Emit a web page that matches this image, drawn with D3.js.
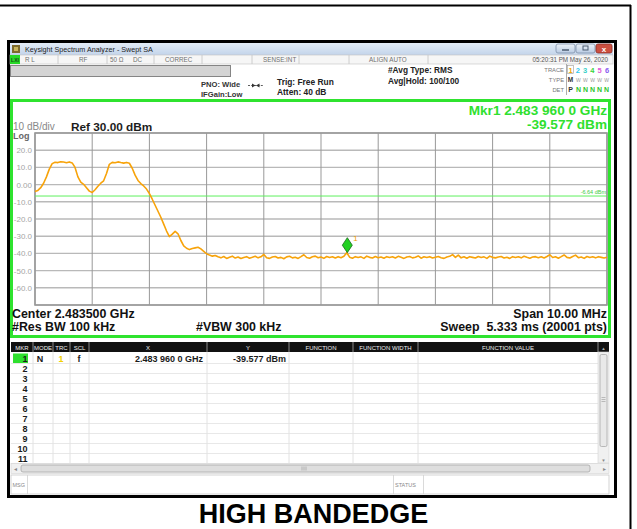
<!DOCTYPE html>
<html>
<head>
<meta charset="utf-8">
<script src="https://cdnjs.cloudflare.com/ajax/libs/d3/7.8.5/d3.min.js"></script>
<style>
body { margin: 0; background: #fff; }
svg { display: block; font-family: "Liberation Sans", Arial, sans-serif; }
</style>
</head>
<body>
<svg id="chart" width="637" height="529"></svg>
<script>
// sweep settings
var startMHz = 2478.5;
var stopMHz = 2488.5;
var traceStepMHz = 0.05;

// trace 1 levels (dBm), one per 0.05 MHz from the start frequency
var traceLevels = [
    -4.0, -3.4, -1.8, 0.8, 4.5, 9.0, 12.2, 13.0, 12.8, 13.3,
    13.1, 12.7, 13.2, 12.6, 10.0, 4.5, 1.5, 0.2, -1.8, -3.8,
    -4.6, -3.0, -1.0, 0.8, 2.2, 6.5, 11.8, 12.9, 12.7, 13.2,
    12.8, 12.5, 12.9, 12.4, 9.5, 5.5, 2.4, 0.6, -0.8, -2.6,
    -5.2, -8.5, -12.0, -15.5, -19.0, -23.0, -27.0, -30.2, -28.8, -27.2,
    -28.6, -32.5, -35.6, -37.0, -37.8, -37.2, -36.8, -36.4, -37.4, -38.8,
    -40.2, -41.0, -41.6, -41.2, -42.0, -42.6, -41.8, -42.9, -42.2, -41.6,
    -42.7, -42.1, -43.0, -42.4, -41.9, -42.8, -42.3, -41.7, -42.6, -42.0,
    -40.6, -42.5, -42.9, -42.1, -41.8, -42.7, -42.3, -43.1, -42.0, -41.7,
    -42.6, -42.2, -42.9, -41.9, -40.8, -42.4, -42.8, -42.0, -41.6, -42.5,
    -42.1, -42.9, -41.8, -42.4, -42.0, -42.7, -41.9, -42.5, -41.7, -39.6,
    -42.2, -42.8, -41.9, -42.4, -42.0, -42.9, -41.6, -42.3, -42.7, -41.8,
    -42.5, -42.1, -42.8, -41.9, -42.4, -42.0, -42.7, -41.7, -42.3, -42.9,
    -42.1, -41.8, -42.6, -42.2, -41.5, -42.8, -42.0, -42.4, -41.9, -42.7,
    -42.2, -41.8, -42.5, -42.9, -42.1, -41.7, -40.7, -42.3, -41.0, -42.6,
    -42.0, -42.8, -41.9, -42.3, -42.7, -41.8, -42.4, -42.0, -42.9, -41.6,
    -42.3, -42.6, -42.1, -41.8, -42.7, -42.2, -42.9, -41.9, -42.4, -42.0,
    -42.6, -41.7, -42.3, -42.8, -42.1, -41.9, -42.5, -42.0, -42.7, -41.8,
    -40.8, -42.4, -42.0, -42.8, -41.9, -40.9, -42.3, -42.7, -41.8, -41.0,
    -42.5, -42.1, -42.9, -41.8, -42.4, -42.0, -42.6, -41.9, -42.3, -42.7,
    -42.2
];

var refLevel = 30;
var dbPerDiv = 10;
var yTickValues = [20, 10, 0, -10, -20, -30, -40, -50, -60];
var yTickLabels = ["20.0", "10.0", "0.00", "-10.0", "-20.0", "-30.0", "-40.0", "-50.0", "-60.0"];

var displayLine = -6.64;
var markerMHz = 2483.96;
var markerLevel = -39.577;

var tableHeaders = ["MKR", "MODE", "TRC", "SCL", "X", "Y", "FUNCTION", "FUNCTION WIDTH", "FUNCTION VALUE"];
var markerRows = ["1", "2", "3", "4", "5", "6", "7", "8", "9", "10", "11"];
var row1 = {mode: "N", trc: "1", scl: "f", x: "2.483 960 0 GHz", y: "-39.577 dBm"};

var traceNums = ["1", "2", "3", "4", "5", "6"];
var traceColors = ["#f2a900", "#2ec8f0", "#39d0c8", "#3ad23a", "#e05ad8", "#8a5cf0"];

var svg = d3.select("#chart");

function text(x, y, s, size, opts) {
    opts = opts || {};
    return svg.append("text")
        .attr("x", x).attr("y", y)
        .attr("font-size", size)
        .attr("font-weight", opts.bold ? "bold" : "normal")
        .attr("fill", opts.fill || "#222")
        .attr("text-anchor", opts.anchor || "start")
        .style("white-space", "pre")
        .text(s);
}
function rect(x, y, w, h, fill, stroke, sw) {
    return svg.append("rect")
        .attr("x", x).attr("y", y).attr("width", w).attr("height", h)
        .attr("fill", fill || "none")
        .attr("stroke", stroke || "none")
        .attr("stroke-width", sw || 1);
}
function line(x1, y1, x2, y2, stroke, sw) {
    return svg.append("line")
        .attr("x1", x1).attr("y1", y1).attr("x2", x2).attr("y2", y2)
        .attr("stroke", stroke).attr("stroke-width", sw || 1);
}

var defs = svg.append("defs");
var tg = defs.append("linearGradient").attr("id", "titleGrad").attr("x1", 0).attr("y1", 0).attr("x2", 0).attr("y2", 1);
tg.append("stop").attr("offset", "0%").attr("stop-color", "#e3ecf7");
tg.append("stop").attr("offset", "100%").attr("stop-color", "#c3d4ea");
var bg = defs.append("linearGradient").attr("id", "btnGrad").attr("x1", 0).attr("y1", 0).attr("x2", 0).attr("y2", 1);
bg.append("stop").attr("offset", "0%").attr("stop-color", "#eef3fa");
bg.append("stop").attr("offset", "100%").attr("stop-color", "#b9cbe3");

// outer page frame
line(0, 5.5, 631, 5.5, "#000", 2);
line(630.5, 5, 630.5, 529, "#000", 2);

// window
rect(8.5, 41.5, 607, 455, "#fff", "#000", 3);

// title bar
rect(10, 43, 603, 12, "url(#titleGrad)");
rect(12, 45, 8, 8, "#7d6a2c");
rect(14, 47, 4, 4, "#c9b45a");
text(25, 52, "Keysight Spectrum Analyzer - Swept SA", 7.2, {fill: "#1c1c1c"});
rect(556, 44, 19, 9, "url(#btnGrad)", "#7f91aa", 0.8).attr("rx", 2);
line(562, 50, 569, 50, "#4a5a70", 1.5);
rect(576, 44, 19, 9, "url(#btnGrad)", "#7f91aa", 0.8).attr("rx", 2);
rect(583, 46, 5, 4, "none", "#4a5a70", 1);
rect(596, 44, 16, 9, "#cd4f40", "#8e2e24", 0.8).attr("rx", 2);
text(604, 52, "x", 8, {fill: "#fff", bold: true, anchor: "middle"});

// status row
rect(10, 55, 603, 9, "#f6f6f6", "#c4c4c4", 0.6);
rect(10, 55, 10, 9, "#26d926");
text(15, 62, "LXI", 5, {fill: "#1a4a1a", bold: true, anchor: "middle"});
[58, 107, 154, 202, 252, 299, 349, 428].forEach(function(x) { line(x, 55, x, 64, "#c4c4c4", 0.8); });
var statusTexts = [["R L", 25], ["RF", 79], ["50 Ω", 110], ["DC", 133], ["CORREC", 165], ["SENSE:INT", 263], ["ALIGN AUTO", 369]];
statusTexts.forEach(function(d) { text(d[1], 62, d[0], 6.3, {fill: "#707070"}); });
text(608, 62, "05:20:31 PM May 26, 2020", 6.3, {fill: "#555", anchor: "end"});

// gray bar + settings
rect(10.5, 65.5, 220, 11, "#d4d4d4", "#858585", 1);
text(201, 87, "PNO: Wide", 7.6, {bold: true, fill: "#333"});
text(201, 96.5, "IFGain:Low", 7.6, {bold: true, fill: "#333"});
line(248, 85.5, 263, 85.5, "#333", 0.8).attr("stroke-dasharray", "2,1.2");
svg.append("path").attr("d", "M252,83.5 L255.5,85.5 L252,87.5 Z M259.5,83.5 L256,85.5 L259.5,87.5 Z").attr("fill", "#333");
text(277, 85, "Trig: Free Run", 8.4, {bold: true, fill: "#222"});
text(277, 95, "Atten: 40 dB", 8.4, {bold: true, fill: "#222"});
text(388, 73, "#Avg Type: RMS", 8.3, {bold: true, fill: "#222"});
text(388, 84, "Avg|Hold: 100/100", 8.3, {bold: true, fill: "#222"});

text(564, 72, "TRACE", 5.8, {fill: "#777", anchor: "end"});
text(564, 82, "TYPE", 5.8, {fill: "#777", anchor: "end"});
text(564, 91.5, "DET", 5.8, {fill: "#777", anchor: "end"});
line(566.5, 64, 566.5, 95, "#999", 0.8);
rect(567.5, 65.5, 6, 8, "none", "#999", 0.6);
traceNums.forEach(function(n, i) {
    text(570.5 + i * 7.3, 72.5, n, 7.5, {fill: traceColors[i], anchor: "middle", bold: true});
});
text(570.5, 82, "M", 6.5, {fill: "#333", anchor: "middle", bold: true});
text(576, 82, "WWWWW", 5, {fill: "#999"}).attr("textLength", 33);
text(570.5, 92, "P", 7, {fill: "#333", anchor: "middle", bold: true});
text(576, 92, "NNNNN", 7, {fill: "#2dc52d", bold: true}).attr("textLength", 33);

// measurement panel
rect(11.5, 100.5, 598, 236, "#fff", "#2fe32f", 3);

text(607, 114.5, "Mkr1 2.483 960 0 GHz", 13.6, {bold: true, fill: "#2fe02f", anchor: "end"});
text(607, 129, "-39.577 dBm", 13.6, {bold: true, fill: "#2fe02f", anchor: "end"});
text(13, 130, "10 dB/div", 10, {fill: "#888"});
text(71, 130.5, "Ref 30.00 dBm", 11.8, {bold: true, fill: "#1c1c1c"});
text(13, 139, "Log", 9, {bold: true, fill: "#666"});

// scales
var x = d3.scaleLinear().domain([startMHz, stopMHz]).range([35, 607]);
var y = d3.scaleLinear().domain([refLevel - 10 * dbPerDiv, refLevel]).range([305, 133]);

var grid = svg.append("g");
grid.selectAll(".hgrid")
    .data(y.ticks(10))
    .enter().append("line")
    .attr("class", "hgrid")
    .attr("x1", 35).attr("x2", 607)
    .attr("y1", function(d) { return y(d); })
    .attr("y2", function(d) { return y(d); })
    .attr("stroke", "#b9b9b9").attr("stroke-width", 1.4);
grid.selectAll(".vgrid")
    .data(d3.range(0, 11))
    .enter().append("line")
    .attr("class", "vgrid")
    .attr("x1", function(d) { return x(startMHz + d); })
    .attr("x2", function(d) { return x(startMHz + d); })
    .attr("y1", 133).attr("y2", 305)
    .attr("stroke", "#999").attr("stroke-width", 1);
rect(35, 133, 572, 172, "none", "#9a9a9a", 1.6);

svg.selectAll(".ylab")
    .data(yTickValues)
    .enter().append("text")
    .attr("class", "ylab")
    .attr("x", 32).attr("y", function(d) { return y(d) + 3; })
    .attr("text-anchor", "end")
    .attr("font-size", 8)
    .attr("fill", "#a5a5a5")
    .text(function(d, i) { return yTickLabels[i]; });

// display line
line(35, y(displayLine), 607, y(displayLine), "#5ef05e", 1);
text(606, y(displayLine) - 2, "-6.64 dBm", 5.5, {fill: "#3ccc3c", anchor: "end"});

// trace
var traceLine = d3.line()
    .x(function(d, i) { return x(startMHz + i * traceStepMHz); })
    .y(function(d) { return y(d); });
svg.append("path")
    .datum(traceLevels)
    .attr("d", traceLine)
    .attr("fill", "none")
    .attr("stroke", "#f7a30a")
    .attr("stroke-width", 1.6)
    .attr("stroke-linejoin", "round");

// marker
var mx = x(markerMHz), my = y(markerLevel);
svg.append("path")
    .attr("d", "M" + mx + "," + my + " L" + (mx + 5) + "," + (my - 7.5) + " L" + mx + "," + (my - 15) + " L" + (mx - 5) + "," + (my - 7.5) + " Z")
    .attr("fill", "#22d022").attr("stroke", "#1a6a1a").attr("stroke-width", 0.8);
text(mx + 6, my - 12, "1", 8, {fill: "#f0a000"});

// bottom annotations
text(12, 317.5, "Center 2.483500 GHz", 12.4, {bold: true, fill: "#111"});
text(607, 317.5, "Span 10.00 MHz", 12.4, {bold: true, fill: "#111", anchor: "end"});
text(12, 330.5, "#Res BW 100 kHz", 12.4, {bold: true, fill: "#111"});
text(196, 330.5, "#VBW 300 kHz", 12.4, {bold: true, fill: "#111"});
text(607, 330.5, "Sweep  5.333 ms (20001 pts)", 12.4, {bold: true, fill: "#111", anchor: "end"});

// marker table
var colEdges = [11, 33, 53, 70, 89, 207, 289, 353, 418, 598];
rect(11, 342, 598, 10, "#111");
colEdges.slice(1).forEach(function(cx) { line(cx, 342, cx, 352, "#8a8a8a", 1); });
tableHeaders.forEach(function(h, i) {
    text((colEdges[i] + colEdges[i + 1]) / 2, 349.5, h, 6, {fill: "#eee", anchor: "middle"});
});
text(603.5, 349.5, "▲", 4.5, {fill: "#aaa", anchor: "middle"});

rect(11, 352, 587, 111, "#fff");
markerRows.forEach(function(r, i) {
    var cy = 353 + i * 10;
    line(11, cy + 10.5, 598, cy + 10.5, "#e8e8e8", 1);
});
colEdges.slice(1, 9).forEach(function(cx) { line(cx, 352, cx, 463, "#e2e2e2", 1); });
rect(13, 353.5, 15, 9.5, "#2ee02e");
markerRows.forEach(function(r, i) {
    text(27.5, 361.8 + i * 10, r, 9, {bold: true, fill: "#1a1a1a", anchor: "end"});
});
text(40, 361.8, row1.mode, 9, {bold: true, fill: "#1a1a1a", anchor: "middle"});
text(61, 361.8, row1.trc, 9, {bold: true, fill: "#f2d000", anchor: "middle"});
text(79, 361.8, row1.scl, 9, {bold: true, fill: "#1a1a1a", anchor: "middle"});
text(203, 361.8, row1.x, 9, {bold: true, fill: "#1a1a1a", anchor: "end"});
text(286, 361.8, row1.y, 9, {bold: true, fill: "#1a1a1a", anchor: "end"});

// vertical scrollbar
rect(598, 352, 11, 111, "#f0f0f0", "#d4d4d4", 0.6);
rect(600, 354.5, 7, 92, "#e9e9e9", "#a8a8a8", 0.8).attr("rx", 1.5);
[397.5, 399.5, 401.5].forEach(function(gy) { line(601.5, gy, 605.5, gy, "#999", 0.6); });
text(603.5, 462, "▼", 4.5, {fill: "#888", anchor: "middle"});

// horizontal scrollbar
rect(11, 463.5, 598, 10, "#f0f0f0", "#d4d4d4", 0.6);
rect(21, 465, 569, 7, "#dedede", "#a8a8a8", 0.8).attr("rx", 2);
text(15, 471, "◂", 6, {fill: "#888", anchor: "middle"});
text(604, 471, "▸", 6, {fill: "#888", anchor: "middle"});
[302, 304, 306].forEach(function(gx) { line(gx, 466.5, gx, 470.5, "#999", 0.6); });

// message bar
rect(11, 475, 598, 19, "#fff", "#c8c8c8", 0.8);
line(27.5, 475, 27.5, 494, "#d0d0d0", 0.8);
line(393.5, 475, 393.5, 494, "#d0d0d0", 0.8);
line(423.5, 475, 423.5, 494, "#d0d0d0", 0.8);
text(12.5, 487, "MSG", 5.5, {fill: "#8a8a8a"});
text(395, 487, "STATUS", 5.5, {fill: "#8a8a8a"});

// caption
text(313.5, 523, "HIGH BANDEDGE", 27, {bold: true, fill: "#000", anchor: "middle"});
</script>
</body>
</html>
